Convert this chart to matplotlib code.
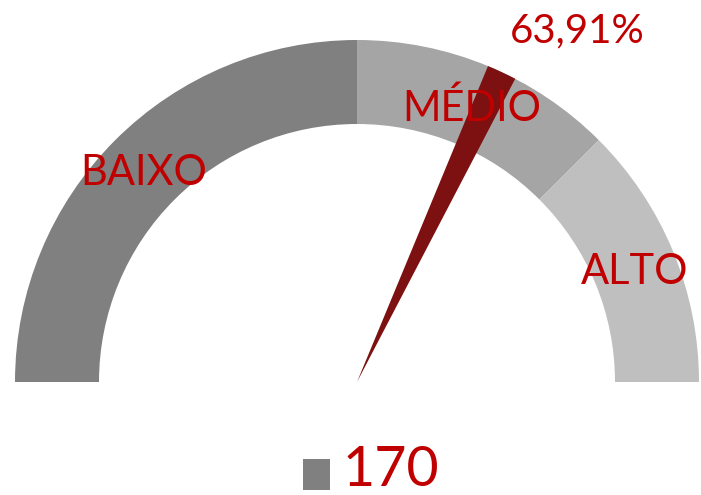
import matplotlib
matplotlib.use('Agg')
import matplotlib.pyplot as plt
from matplotlib.patches import Wedge, Rectangle
import numpy as np

#data
band_names = ['BAIXO', 'MÉDIO', 'ALTO']
band_shares = [50, 25, 25]          # percent of the half circle
band_colors = ['#808080', '#a5a5a5', '#bfbfbf']
needle_value = 63.91                # percent
needle_label = '63,91%'
legend_value = '170'

#layout settings (pixels, y pointing up)
W, H = 701, 495
cx, cy = 357, 495 - 382
r_out = 342
r_in = 258
needle_half = 1.4                   # percent each side
red = '#c00000'

plt.rcParams['font.family'] = ['Lato', 'DejaVu Sans']

fig = plt.figure(figsize=(W / 100, H / 100), dpi=100)
ax = fig.add_axes([0, 0, 1, 1])
ax.set_xlim(0, W)
ax.set_ylim(0, H)
ax.set_aspect('equal')
ax.axis('off')

def pct_to_deg(p):
    return 180 - p * 1.8

#gauge bands
start = 0
for name, share, col in zip(band_names, band_shares, band_colors):
    end = start + share
    ax.add_patch(Wedge((cx, cy), r_out, pct_to_deg(end), pct_to_deg(start),
                       width=r_out - r_in, facecolor=col, edgecolor='none'))
    start = end

#needle
ax.add_patch(Wedge((cx, cy), r_out, pct_to_deg(needle_value + needle_half),
                   pct_to_deg(needle_value - needle_half),
                   facecolor='#7d1010', edgecolor='none', zorder=3))

#band labels
label_pos = [(144, 495 - 173), (472, 495 - 108), (635, 495 - 272)]
for name, (x, y) in zip(band_names, label_pos):
    ax.text(x, y, name, color=red, fontsize=30, ha='center', va='center', zorder=4)

ax.text(577, 495 - 31, needle_label, color=red, fontsize=29, ha='center', va='center')

#legend
ax.add_patch(Rectangle((303, 495 - 490), 27, 31, facecolor=band_colors[0], edgecolor='none'))
ax.text(343, 495 - 470, legend_value, color=red, fontsize=40, ha='left', va='center')

fig.savefig('out.png', dpi=100)
